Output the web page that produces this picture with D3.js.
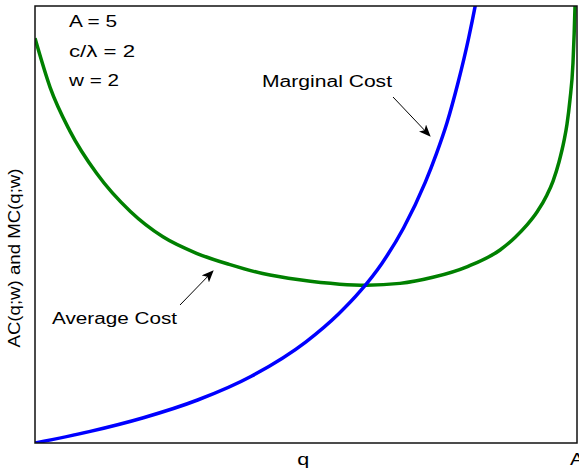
<!DOCTYPE html>
<html>
<head>
<meta charset="utf-8">
<script src="https://cdn.jsdelivr.net/npm/d3@7"></script>
<style>
  html, body { margin: 0; padding: 0; background: #fff; overflow: hidden; }
  text { font-family: "Liberation Sans", Arial, sans-serif; fill: #000; }
</style>
</head>
<body>
<div id="chart"></div>
<script>

// Output levels q (A = 5 at the right edge)
var mcQ = [0, 0.5, 1.0, 1.5, 2.0, 2.5, 2.8, 3.0, 3.2, 3.4, 3.6, 3.7, 3.8, 3.9, 4.0, 4.1, 4.15];
var mcValues = [0.80, 0.89, 1.00, 1.14, 1.33, 1.60, 1.82, 2.00, 2.22, 2.50, 2.86, 3.08, 3.33, 3.64, 4.00, 4.44, 4.71];

var acQ = [0, 0.14, 0.32, 0.57, 0.88, 1.18, 1.49, 1.80, 2.10, 2.44, 2.81, 3.06, 3.367, 3.67, 3.99,
  4.29, 4.428, 4.539, 4.631, 4.723, 4.779, 4.834, 4.88, 4.908, 4.935, 4.963, 4.982, 4.991];
var acValues = [4.00, 3.61, 3.27, 2.93, 2.63, 2.43, 2.30, 2.21, 2.14, 2.09, 2.056, 2.048, 2.062, 2.110, 2.195,
  2.326, 2.425, 2.524, 2.626, 2.761, 2.871, 3.022, 3.188, 3.322, 3.512, 3.804, 4.263, 4.619];

var paramLabels = ['A = 5', 'c/\u03bb = 2', 'w = 2'];
var xTickLabels = ['q', 'A'];

// SVG setup
var svgWidth = 579;
var svgHeight = 473;
var margin = { left: 35, top: 6, right: 2, bottom: 30 };
var plotW = svgWidth - margin.left - margin.right;
var plotH = svgHeight - margin.top - margin.bottom;

var svg = d3.select('#chart').append('svg')
  .attr('width', svgWidth)
  .attr('height', svgHeight);

var xScale = d3.scaleLinear()
  .domain([0, 5])
  .range([margin.left, margin.left + plotW]);

var yScale = d3.scaleLinear()
  .domain([0.8, 4.255])
  .range([margin.top + plotH, margin.top]);

// clip the curves to the box
svg.append('clipPath')
  .attr('id', 'plotClip')
  .append('rect')
  .attr('x', margin.left)
  .attr('y', margin.top)
  .attr('width', plotW)
  .attr('height', plotH);

// arrow head
svg.append('defs').append('marker')
  .attr('id', 'head')
  .attr('viewBox', '0 0 12 10')
  .attr('refX', 11)
  .attr('refY', 5)
  .attr('markerWidth', 12)
  .attr('markerHeight', 10)
  .attr('markerUnits', 'userSpaceOnUse')
  .attr('orient', 'auto')
  .append('path')
  .attr('d', 'M0,0 L12,5 L0,10 L3,5 Z')
  .attr('fill', '#000');

var line = d3.line()
  .x(function(d) { return xScale(d[0]); })
  .y(function(d) { return yScale(d[1]); })
  .curve(d3.curveMonotoneX);

var curves = svg.append('g').attr('clip-path', 'url(#plotClip)');

curves.append('path')
  .datum(d3.zip(acQ, acValues))
  .attr('d', line)
  .attr('fill', 'none')
  .attr('stroke', '#008000')
  .attr('stroke-width', 3.5);

curves.append('path')
  .datum(d3.zip(mcQ, mcValues))
  .attr('d', line)
  .attr('fill', 'none')
  .attr('stroke', '#0000ff')
  .attr('stroke-width', 3.5);

// frame
svg.append('rect')
  .attr('x', margin.left)
  .attr('y', margin.top)
  .attr('width', plotW)
  .attr('height', plotH)
  .attr('fill', 'none')
  .attr('stroke', '#111')
  .attr('stroke-width', 1.5);

// parameter block in the top left
var paramY = [27, 57, 86];
var paramLen = [48, 66, 50];
svg.selectAll('text.param')
  .data(paramLabels)
  .enter()
  .append('text')
  .attr('class', 'param')
  .attr('x', 69)
  .attr('y', function(d, i) { return paramY[i]; })
  .attr('font-size', 16)
  .attr('textLength', function(d, i) { return paramLen[i]; })
  .attr('lengthAdjust', 'spacingAndGlyphs')
  .text(function(d) { return d; });

// x axis labels, q in the middle and A at the right end
svg.append('text')
  .attr('x', xScale(2.475))
  .attr('y', 465)
  .attr('font-size', 16)
  .attr('text-anchor', 'middle')
  .attr('textLength', 12)
  .attr('lengthAdjust', 'spacingAndGlyphs')
  .text(xTickLabels[0]);

svg.append('text')
  .attr('x', 570)
  .attr('y', 465)
  .attr('font-size', 16)
  .attr('textLength', 14)
  .attr('lengthAdjust', 'spacingAndGlyphs')
  .text(xTickLabels[1]);

// y axis label
svg.append('text')
  .attr('transform', 'translate(20,258) rotate(-90)')
  .attr('font-size', 16)
  .attr('text-anchor', 'middle')
  .attr('textLength', 179)
  .attr('lengthAdjust', 'spacingAndGlyphs')
  .text('AC(q;w) and MC(q;w)');

// annotations
svg.append('text')
  .attr('x', 262)
  .attr('y', 87)
  .attr('font-size', 16)
  .attr('textLength', 130)
  .attr('lengthAdjust', 'spacingAndGlyphs')
  .text('Marginal Cost');

svg.append('line')
  .attr('x1', 393).attr('y1', 97)
  .attr('x2', 430).attr('y2', 136)
  .attr('stroke', '#000')
  .attr('stroke-width', 1)
  .attr('marker-end', 'url(#head)');

svg.append('text')
  .attr('x', 52)
  .attr('y', 324)
  .attr('font-size', 16)
  .attr('textLength', 125)
  .attr('lengthAdjust', 'spacingAndGlyphs')
  .text('Average Cost');

svg.append('line')
  .attr('x1', 180).attr('y1', 305)
  .attr('x2', 213).attr('y2', 271)
  .attr('stroke', '#000')
  .attr('stroke-width', 1)
  .attr('marker-end', 'url(#head)');

</script>
</body>
</html>
